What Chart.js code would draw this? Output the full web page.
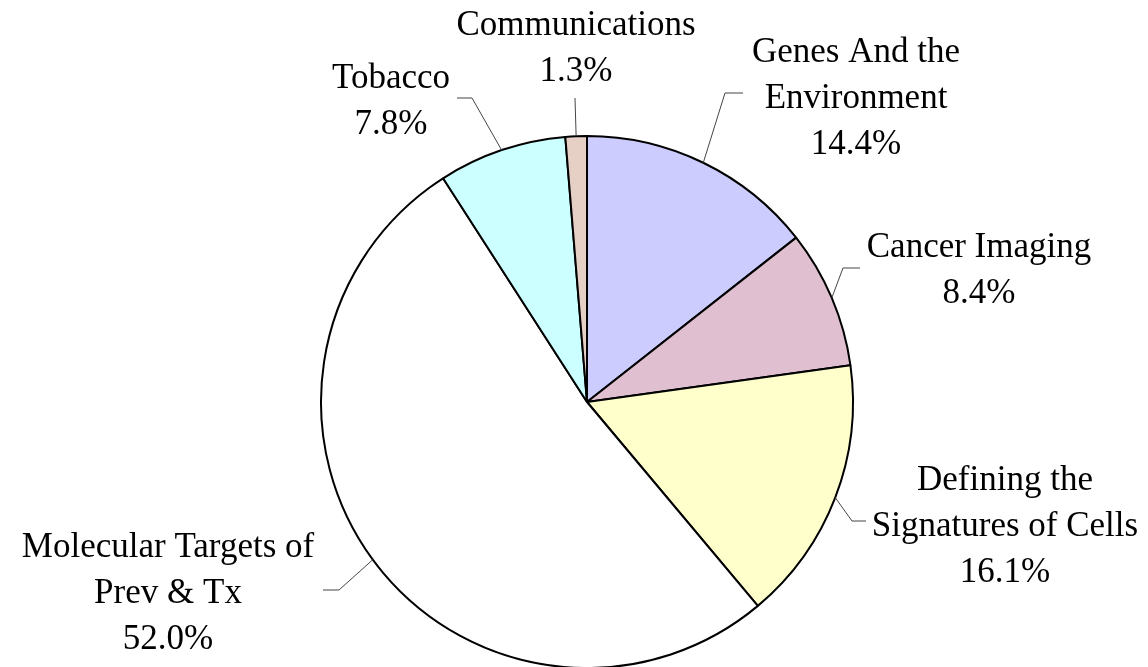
<!DOCTYPE html>
<html>
<head>
<meta charset="utf-8">
<script src="https://cdn.jsdelivr.net/npm/chart.js@4/dist/chart.umd.min.js"></script>
<style>
  html, body { margin: 0; padding: 0; background: #fff; overflow: hidden; }
  #chart { display: block; }
</style>
</head>
<body>
<canvas id="chart" width="1148" height="667"></canvas>
<script>
// slices, clockwise from 12 o'clock
const categories = [
  'Genes And the\nEnvironment',
  'Cancer Imaging',
  'Defining the\nSignatures of Cells',
  'Molecular Targets of\nPrev & Tx',
  'Tobacco',
  'Communications'
];
const shares = [14.4, 8.4, 16.1, 52.0, 7.8, 1.3];
const sliceColors = ['#ccccff', '#e0c0d0', '#ffffcc', '#ffffff', '#ccffff', '#e6d0c6'];

// where each label sits: text centre x, first baseline y, leader elbow, leader end
const labelSpots = [
  { tx: 856, ty: 62,  elbow: [725, 93],  end: [743, 93] },
  { tx: 979, ty: 257, elbow: [843, 268], end: [860, 268] },
  { tx: 1005, ty: 490, elbow: [852, 521], end: [866, 521] },
  { tx: 168, ty: 557, elbow: [339, 590], end: [323, 590] },
  { tx: 391, ty: 88,  elbow: [472, 98],  end: [457, 98] },
  { tx: 576, ty: 35,  elbow: [575, 98],  end: [575, 98] }
];

const FONT = '35px "Liberation Serif", "Times New Roman", serif';
const LINE_H = 46;

const sliceLabels = {
  id: 'sliceLabels',
  afterDatasetsDraw(chart) {
    const ctx = chart.ctx;
    const arcs = chart.getDatasetMeta(0).data;
    ctx.save();
    arcs.forEach((arc, i) => {
      const p = arc.getProps(['x', 'y', 'startAngle', 'endAngle', 'outerRadius'], true);
      const mid = (p.startAngle + p.endAngle) / 2;
      const sx = p.x + Math.cos(mid) * p.outerRadius;
      const sy = p.y + Math.sin(mid) * p.outerRadius;
      const spot = labelSpots[i];

      // leader line
      ctx.strokeStyle = '#444';
      ctx.lineWidth = 1;
      ctx.beginPath();
      ctx.moveTo(sx, sy);
      ctx.lineTo(spot.elbow[0], spot.elbow[1]);
      ctx.lineTo(spot.end[0], spot.end[1]);
      ctx.stroke();

      // text
      const lines = categories[i].split('\n').concat(shares[i].toFixed(1) + '%');
      ctx.fillStyle = '#000';
      ctx.font = FONT;
      ctx.textAlign = 'center';
      ctx.textBaseline = 'alphabetic';
      lines.forEach((t, k) => ctx.fillText(t, spot.tx, spot.ty + k * LINE_H));
    });
    ctx.restore();
  }
};

new Chart(document.getElementById('chart'), {
  type: 'pie',
  data: {
    labels: categories.map(c => c.replace('\n', ' ')),
    datasets: [{
      data: shares,
      backgroundColor: sliceColors,
      borderColor: '#000',
      borderWidth: 2,
      radius: 266,
      clip: false
    }]
  },
  options: {
    responsive: false,
    animation: false,
    devicePixelRatio: 1,
    layout: { padding: { left: 26, right: 0, top: 137, bottom: 0 } },
    plugins: { legend: { display: false }, tooltip: { enabled: false } }
  },
  plugins: [sliceLabels]
});
</script>
</body>
</html>
